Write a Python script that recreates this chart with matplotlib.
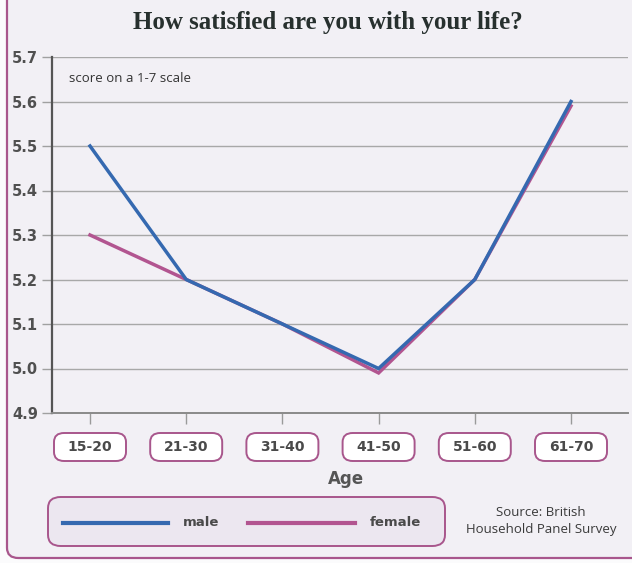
import matplotlib.pyplot as plt
from matplotlib.patches import FancyBboxPatch
from matplotlib.lines import Line2D

# datos: satisfaccion con la vida por grupo de edad (escala 1-7)
grupos_Edad = ["15-20", "21-30", "31-40", "41-50", "51-60", "61-70"]
hombres = [5.5, 5.2, 5.1, 5.0, 5.2, 5.6]
mujeres = [5.3, 5.2, 5.1, 4.99, 5.2, 5.59]
ticks_Y = [4.9, 5.0, 5.1, 5.2, 5.3, 5.4, 5.5, 5.6, 5.7]

color_Hombre = "#3569b0"
color_Mujer = "#b25590"
color_Borde = "#a8568c"
fondo = "#f2f0f5"
gris = "#4a4a4a"

W, H = 632, 563
fig = plt.figure(figsize=(W/100, H/100), dpi=100)
fig.patch.set_facecolor("#fbfbfc")

def fx(px):
    return px / W

def fy(py):
    # py medido desde arriba en pixeles
    return 1 - py / H

# tarjeta de fondo con borde morado
tarjeta = FancyBboxPatch((fx(7), fy(558)), 1.2, 1.2, transform=fig.transFigure,
                         boxstyle="round,pad=0,rounding_size=0.018",
                         facecolor=fondo, edgecolor=color_Borde, linewidth=1.6, zorder=0)
fig.add_artist(tarjeta)

ax = fig.add_axes([fx(52), fy(413), fx(628) - fx(52), fy(57) - fy(413)])
ax.set_facecolor("none")

ax.plot(range(len(grupos_Edad)), mujeres, color=color_Mujer, lw=2.5, solid_joinstyle="miter", zorder=3)
ax.plot(range(len(grupos_Edad)), hombres, color=color_Hombre, lw=2.5, solid_joinstyle="miter", zorder=4)

ax.set_ylim(4.9, 5.7)
ax.set_xlim(-(90 - 52) / 96.2, (628 - 90) / 96.2)
ax.set_yticks(ticks_Y)
ax.set_yticklabels([f"{t:.1f}" for t in ticks_Y], fontsize=10.5, fontweight="bold",
                   color="#505050", family="DejaVu Sans")
ax.tick_params(axis="y", length=7, width=1, color="#a0a0a0", pad=3)
ax.grid(axis="y", color="#a8a8a8", lw=1.0)
ax.set_axisbelow(True)

ax.set_xticks(range(len(grupos_Edad)))
ax.set_xticklabels([])
ax.tick_params(axis="x", length=8, width=1, color="#9a9a9a")

for lado in ["top", "right"]:
    ax.spines[lado].set_visible(False)
ax.spines["left"].set_color("#555555")
ax.spines["left"].set_linewidth(1.6)
ax.spines["bottom"].set_color("#8a8a8a")
ax.spines["bottom"].set_linewidth(1.4)

# etiquetas de edad en cajas redondeadas
fig.canvas.draw()
for i, g in enumerate(grupos_Edad):
    x_px = ax.transData.transform((i, 5.0))[0]
    caja = FancyBboxPatch((fx(x_px - 36), fy(461)), fx(72), fy(433) - fy(461),
                          transform=fig.transFigure,
                          boxstyle="round,pad=0,rounding_size=0.016",
                          facecolor="white", edgecolor=color_Borde, linewidth=1.4)
    fig.add_artist(caja)
    fig.text(fx(x_px), fy(447), g, ha="center", va="center", fontsize=10,
             fontweight="bold", color=gris, family="DejaVu Sans")

fig.text(fx(346), fy(479), "Age", ha="center", va="center", fontsize=12,
         fontweight="bold", color="#555555", family="DejaVu Sans")

ax.text(0.03, 0.94, "score on a 1-7 scale", transform=ax.transAxes, ha="left", va="center",
        fontsize=9.5, color="#333333", family="Open Sans")

fig.text(fx(328), fy(22), "How satisfied are you with your life?", ha="center", va="center",
         fontsize=18, fontweight="bold", color="#27302e", family="Liberation Serif")

# leyenda
leyenda = FancyBboxPatch((fx(48), fy(546)), fx(445) - fx(48), fy(497) - fy(546),
                         transform=fig.transFigure,
                         boxstyle="round,pad=0,rounding_size=0.02",
                         facecolor="#ece7f0", edgecolor=color_Borde, linewidth=1.4)
fig.add_artist(leyenda)
fig.add_artist(Line2D([fx(63), fx(168)], [fy(523), fy(523)], transform=fig.transFigure,
                      color=color_Hombre, lw=3.0))
fig.add_artist(Line2D([fx(248), fx(355)], [fy(523), fy(523)], transform=fig.transFigure,
                      color=color_Mujer, lw=3.0))
fig.text(fx(183), fy(523), "male", ha="left", va="center", fontsize=9.5,
         fontweight="bold", color=gris, family="DejaVu Sans")
fig.text(fx(370), fy(523), "female", ha="left", va="center", fontsize=9.5,
         fontweight="bold", color=gris, family="DejaVu Sans")

fig.text(fx(541), fy(521), "Source: British\nHousehold Panel Survey", ha="center", va="center",
         fontsize=9.5, color="#3a3a3a", family="Open Sans", linespacing=1.3)

fig.savefig("out.png", dpi=100)
